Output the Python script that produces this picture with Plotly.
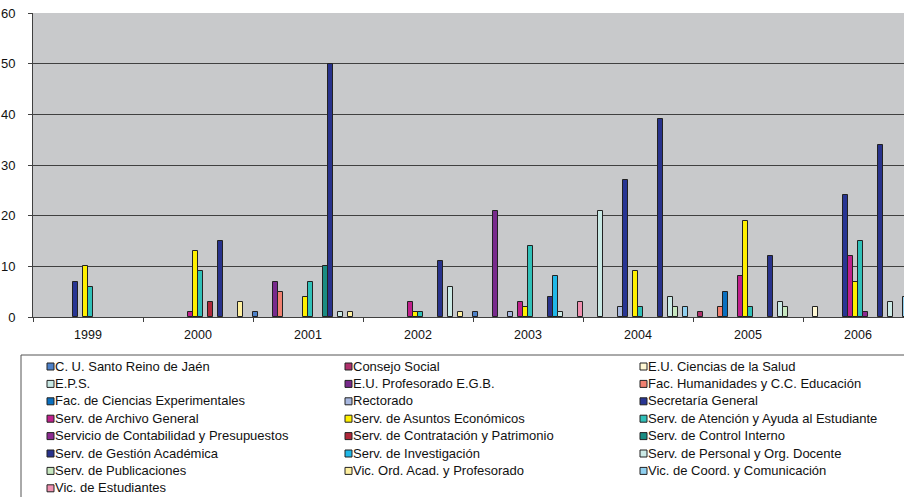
import plotly.graph_objects as go

years = ["1999", "2000", "2001", "2002", "2003", "2004", "2005", "2006"]

# values per series, one entry per year (None = no bar)
cu_santo_reino      = [None, None, 1, None, 1, None, None, None]
consejo_social      = [None, None, None, None, None, None, 1, None]
eu_ciencias_salud   = [None, None, None, None, None, None, None, 2]
eps                 = [None, None, None, None, None, 21, None, None]
eu_profesorado      = [None, None, 7, None, 21, None, None, None]
fac_humanidades     = [None, None, 5, None, None, None, 2, None]
fac_ciencias_exp    = [None, None, None, None, None, None, 5, None]
rectorado           = [None, None, None, None, 1, 2, None, None]
secretaria_general  = [7, None, None, None, None, 27, None, 24]
archivo_general     = [None, 1, None, 3, 3, None, 8, 12]
asuntos_economicos  = [10, 13, 4, 1, 2, 9, 19, 7]
atencion_estudiante = [6, 9, 7, 1, 14, 2, 2, 15]
contabilidad        = [None, None, None, None, None, None, None, 1]
contratacion        = [None, 3, None, None, None, None, None, None]
control_interno     = [None, None, 10, None, None, None, None, None]
gestion_academica   = [None, 15, 50, 11, 4, 39, 12, 34]
investigacion       = [None, None, None, None, 8, None, None, None]
personal_docente    = [None, None, 1, 6, 1, 4, 3, 3]
publicaciones       = [None, None, None, None, None, 2, 2, None]
vic_ord_acad        = [None, 3, 1, 1, None, None, None, None]
vic_coord_com       = [None, None, None, None, None, 2, None, 4]
vic_estudiantes     = [None, None, None, None, 3, None, None, None]

series_names = [
    "C. U. Santo Reino de Jaén", "Consejo Social", "E.U. Ciencias de la Salud",
    "E.P.S.", "E.U. Profesorado E.G.B.", "Fac. Humanidades y C.C. Educación",
    "Fac. de Ciencias Experimentales", "Rectorado", "Secretaría General",
    "Serv. de Archivo General", "Serv. de Asuntos Económicos",
    "Serv. de Atención y Ayuda al Estudiante",
    "Servicio de Contabilidad y Presupuestos", "Serv. de Contratación y Patrimonio",
    "Serv. de Control Interno", "Serv. de Gestión Académica",
    "Serv. de Investigación", "Serv. de Personal y Org. Docente",
    "Serv. de Publicaciones", "Vic. Ord. Acad. y Profesorado",
    "Vic. de Coord. y Comunicación", "Vic. de Estudiantes",
]
series_values = [
    cu_santo_reino, consejo_social, eu_ciencias_salud, eps, eu_profesorado,
    fac_humanidades, fac_ciencias_exp, rectorado, secretaria_general,
    archivo_general, asuntos_economicos, atencion_estudiante, contabilidad,
    contratacion, control_interno, gestion_academica, investigacion,
    personal_docente, publicaciones, vic_ord_acad, vic_coord_com, vic_estudiantes,
]
series_colors = [
    "#4d80c8", "#b0306c", "#fff8d4", "#c8e8e4", "#782a8c", "#f08070",
    "#0a70c0", "#a8b8e0", "#283593", "#c0208c", "#fff000", "#30c0b8",
    "#8c2a90", "#b0283a", "#1a8c82", "#28328c", "#20b8e8", "#cceae6",
    "#c8e8c0", "#fff0a0", "#90d0f0", "#f090b0",
]

FONT = "Liberation Sans, Arial, sans-serif"
W, H = 904, 497
ML, MT, MB, MR = 33, 13, 180, 0
PW, PH = W - ML - MR, H - MT - MB

fig = go.Figure()
for name, vals, col in zip(series_names, series_values, series_colors):
    fig.add_trace(go.Bar(
        x=years, y=vals, name=name, showlegend=False,
        marker=dict(color=col, line=dict(color="#222222", width=1)),
    ))

def px_x(px):
    return (px - ML) / PW

def px_y(py):
    return (H - MB - py) / PH

shapes = []
annotations = []
# legend box
shapes.append(dict(type="rect", xref="paper", yref="paper",
                   x0=px_x(21), x1=px_x(920), y0=px_y(520), y1=px_y(355),
                   line=dict(color="#555555", width=1), fillcolor="rgba(0,0,0,0)"))
col_x = [47, 345, 640]
row0, row_h = 366, 17.4
sw = 7
for i, (name, col) in enumerate(zip(series_names, series_colors)):
    r, c = divmod(i, 3)
    cx = col_x[c]
    cy = row0 + r * row_h
    shapes.append(dict(type="rect", xref="paper", yref="paper",
                       x0=px_x(cx), x1=px_x(cx + sw),
                       y0=px_y(cy + sw / 2 + 0.5), y1=px_y(cy - sw / 2 + 0.5),
                       line=dict(color="#222222", width=1), fillcolor=col))
    annotations.append(dict(xref="paper", yref="paper", x=px_x(cx + sw), y=px_y(cy),
                            xanchor="left", yanchor="middle", showarrow=False,
                            text=name, font=dict(family=FONT, size=13, color="#111111"),
                            borderpad=0))

fig.update_layout(
    width=W, height=H,
    margin=dict(l=ML, r=MR, t=MT, b=MB, pad=0, autoexpand=False),
    paper_bgcolor="white", plot_bgcolor="#c8c9cb",
    barmode="group", bargap=0, bargroupgap=0,
    showlegend=False,
    font=dict(family=FONT, size=12, color="#111111"),
    shapes=shapes, annotations=annotations,
)
fig.update_xaxes(
    type="category", range=[-0.5, -0.5 + PW / 110.0], automargin=False,
    showline=True, linecolor="#404040", linewidth=1,
    ticks="outside", tickson="boundaries", ticklen=4, tickcolor="#404040",
    showgrid=False, tickfont=dict(family=FONT, size=12.5, color="#111111"),
    ticklabelstandoff=6,
)
fig.update_yaxes(
    range=[0, 60], dtick=10, showgrid=True, gridcolor="#404040", gridwidth=1,
    showline=True, linecolor="#404040", linewidth=1, zeroline=False, automargin=False,
    ticks="outside", ticklen=4, tickcolor="#404040",
    tickfont=dict(family=FONT, size=13, color="#111111"),
    ticklabelstandoff=10,
)

fig.write_html("out.html", config={"displayModeBar": False},
               post_script="document.body.style.margin='0';document.body.style.overflow='hidden';")
